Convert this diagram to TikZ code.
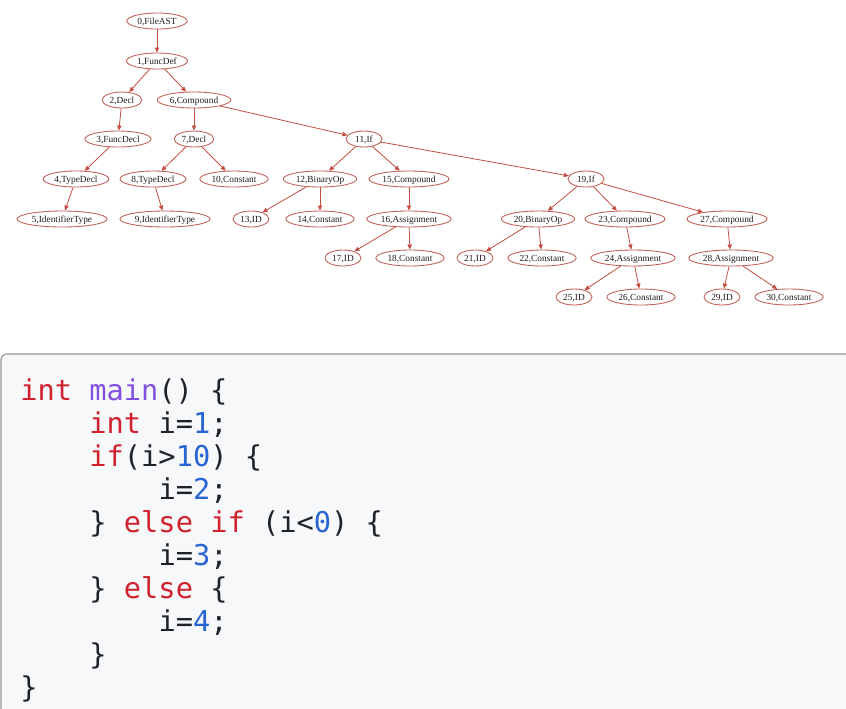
\documentclass[tikz,border=0pt]{standalone}
\usepackage{fontspec}
\setmainfont{Liberation Serif}
\newfontfamily\codefont{DejaVu Sans Mono}
\usetikzlibrary{shapes.geometric,arrows.meta}
\definecolor{edgec}{RGB}{196,78,66}
\definecolor{nodec}{RGB}{192,96,86}
\definecolor{txt}{RGB}{35,28,28}
\definecolor{kw}{RGB}{207,34,46}
\definecolor{fn}{RGB}{130,80,223}
\definecolor{num}{RGB}{40,100,210}
\definecolor{codec}{RGB}{31,35,40}
\definecolor{panel}{RGB}{246,248,250}
\definecolor{panelb}{RGB}{150,150,150}
\begin{document}
\begin{tikzpicture}[x=0.75pt,y=-0.75pt,
 ast/.style={ellipse,draw=nodec,line width=0.65pt,inner xsep=1.3pt,inner ysep=0pt,minimum height=12pt,minimum width=27pt,text height=4.6pt,text depth=0pt,font=\fontsize{7}{8}\selectfont,text=txt},
 edge/.style={draw=edgec,line width=0.6pt,-{Triangle[length=3.8pt,width=3.2pt]}},
 codeline/.style={anchor=base west,inner sep=0pt,font=\codefont\fontsize{21.5}{25}\selectfont,text=codec}]
\useasboundingbox (0,0) rectangle (846,708);
\fill[white] (0,0) rectangle (846,708);
\begin{scope}
\clip (0,0) rectangle (846,708);
\draw[panelb,fill=panel,rounded corners=4.5pt,line width=0.9pt] (1,354) rectangle (870,740);
\end{scope}
% tree nodes
\node[ast] (n0) at (157,21) {0,FileAST};
\node[ast] (n1) at (157,61) {1,FuncDef};
\node[ast] (n2) at (122,100) {2,Decl};
\node[ast] (n6) at (194,100) {6,Compound};
\node[ast] (n3) at (118,139) {3,FuncDecl};
\node[ast] (n7) at (194,139) {7,Decl};
\node[ast] (n11) at (364,139) {11,If};
\node[ast] (n4) at (76,179) {4,TypeDecl};
\node[ast] (n8) at (153,179) {8,TypeDecl};
\node[ast] (n10) at (234,179) {10,Constant};
\node[ast] (n12) at (320,179) {12,BinaryOp};
\node[ast] (n15) at (409,179) {15,Compound};
\node[ast] (n19) at (586,179) {19,If};
\node[ast] (n5) at (62,219) {5,IdentifierType};
\node[ast] (n9) at (165,219) {9,IdentifierType};
\node[ast] (n13) at (251,219) {13,ID};
\node[ast] (n14) at (320,219) {14,Constant};
\node[ast] (n16) at (409,219) {16,Assignment};
\node[ast] (n20) at (538,219) {20,BinaryOp};
\node[ast] (n23) at (625,219) {23,Compound};
\node[ast] (n27) at (727,219) {27,Compound};
\node[ast] (n17) at (343,258) {17,ID};
\node[ast] (n18) at (410,258) {18,Constant};
\node[ast] (n21) at (475,258) {21,ID};
\node[ast] (n22) at (542,258) {22,Constant};
\node[ast] (n24) at (633,258) {24,Assignment};
\node[ast] (n28) at (731,258) {28,Assignment};
\node[ast] (n25) at (574,297) {25,ID};
\node[ast] (n26) at (641,297) {26,Constant};
\node[ast] (n29) at (722,297) {29,ID};
\node[ast] (n30) at (789,297) {30,Constant};
% edges
\foreach \a/\b in {n0/n1,n1/n2,n1/n6,n2/n3,n3/n4,n4/n5,n6/n7,n6/n11,n7/n8,n7/n10,n8/n9,n11/n12,n11/n15,n11/n19,n12/n13,n12/n14,n15/n16,n16/n17,n16/n18,n19/n20,n19/n23,n19/n27,n20/n21,n20/n22,n23/n24,n24/n25,n24/n26,n27/n28,n28/n29,n28/n30}
  \draw[edge] (\a) -- (\b);
% code
\node[codeline] (c1) at (20,400) {{\color{kw}int} {\color{fn}main}() \{};
\node[codeline] (c2) at (89.2,433) {{\color{kw}int} i={\color{num}1};};
\node[codeline] (c3) at (89.2,466) {{\color{kw}if}(i>{\color{num}10}) \{};
\node[codeline] (c4) at (158.4,499) {i={\color{num}2};};
\node[codeline] (c5) at (89.2,532) {\} {\color{kw}else} {\color{kw}if} (i<{\color{num}0}) \{};
\node[codeline] (c6) at (158.4,565) {i={\color{num}3};};
\node[codeline] (c7) at (89.2,598) {\} {\color{kw}else} \{};
\node[codeline] (c8) at (158.4,631) {i={\color{num}4};};
\node[codeline] (c9) at (89.2,664) {\}};
\node[codeline] (c10) at (20,697) {\}};
\end{tikzpicture}
\end{document}
